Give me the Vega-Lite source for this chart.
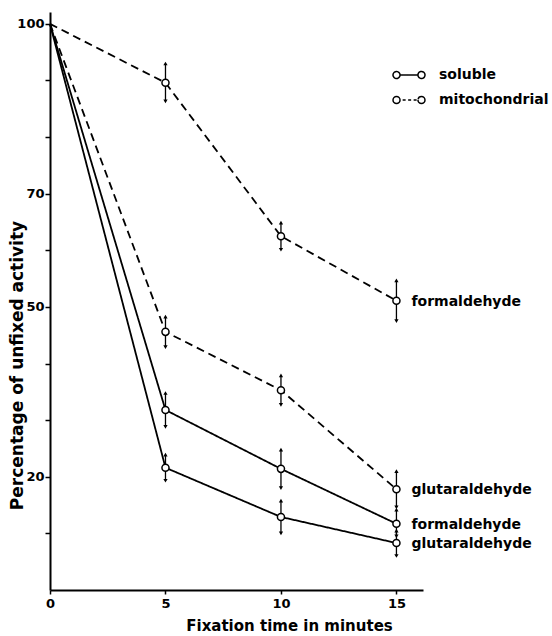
{
  "$schema": "https://vega.github.io/schema/vega-lite/v6.json",
  "width": 373,
  "height": 578,
  "autosize": {"type": "none"},
  "padding": {"left": 50, "top": 12, "right": 129, "bottom": 46},
  "background": "white",
  "config": {
    "view": {"stroke": null},
    "font": "DejaVu Sans",
    "axis": {
      "grid": false,
      "domainColor": "black",
      "domainWidth": 2,
      "tickColor": "black",
      "tickWidth": 1.5,
      "labelColor": "black",
      "labelFont": "DejaVu Sans",
      "labelFontWeight": "bold",
      "labelFontSize": 13,
      "titleColor": "black",
      "titleFont": "DejaVu Sans",
      "titleFontWeight": "bold"
    }
  },
  "data": {
    "values": [
      {"fraction": "mitochondrial", "fixative": "formaldehyde", "time": 0, "pct": 100},
      {"fraction": "mitochondrial", "fixative": "formaldehyde", "time": 5, "pct": 89.6, "lo": 86.3, "hi": 93.0},
      {"fraction": "mitochondrial", "fixative": "formaldehyde", "time": 10, "pct": 62.5, "lo": 60.1, "hi": 64.9},
      {"fraction": "mitochondrial", "fixative": "formaldehyde", "time": 15, "pct": 51.1, "lo": 47.5, "hi": 54.7},
      {"fraction": "mitochondrial", "fixative": "glutaraldehyde", "time": 0, "pct": 100},
      {"fraction": "mitochondrial", "fixative": "glutaraldehyde", "time": 5, "pct": 45.6, "lo": 42.9, "hi": 48.3},
      {"fraction": "mitochondrial", "fixative": "glutaraldehyde", "time": 10, "pct": 35.3, "lo": 32.7, "hi": 37.9},
      {"fraction": "mitochondrial", "fixative": "glutaraldehyde", "time": 15, "pct": 17.8, "lo": 14.6, "hi": 21.0},
      {"fraction": "soluble", "fixative": "formaldehyde", "time": 0, "pct": 100},
      {"fraction": "soluble", "fixative": "formaldehyde", "time": 5, "pct": 31.8, "lo": 28.8, "hi": 34.8},
      {"fraction": "soluble", "fixative": "formaldehyde", "time": 10, "pct": 21.4, "lo": 18.0, "hi": 24.8},
      {"fraction": "soluble", "fixative": "formaldehyde", "time": 15, "pct": 11.7, "lo": 9.5, "hi": 14.2},
      {"fraction": "soluble", "fixative": "glutaraldehyde", "time": 0, "pct": 100},
      {"fraction": "soluble", "fixative": "glutaraldehyde", "time": 5, "pct": 21.6, "lo": 19.3, "hi": 23.9},
      {"fraction": "soluble", "fixative": "glutaraldehyde", "time": 10, "pct": 12.9, "lo": 10.0, "hi": 15.8},
      {"fraction": "soluble", "fixative": "glutaraldehyde", "time": 15, "pct": 8.3, "lo": 6.0, "hi": 10.5}
    ]
  },
  "resolve": {
    "scale": {"strokeDash": "independent"},
    "legend": {"strokeDash": "independent"}
  },
  "encoding": {
    "x": {
      "field": "time",
      "type": "quantitative",
      "scale": {"domain": [0, 16.15], "nice": false, "zero": false},
      "axis": {
        "values": [0, 5, 10, 15],
        "tickSize": 4,
        "labelPadding": 3,
        "labelFlush": false,
        "title": "Fixation time in minutes",
        "titleFontSize": 15,
        "titleX": 239,
        "titleY": 40,
        "titleBaseline": "alphabetic",
        "titleAlign": "center"
      }
    },
    "y": {
      "field": "pct",
      "type": "quantitative",
      "scale": {"domain": [0, 102.1], "nice": false},
      "axis": {
        "values": [10, 20, 30, 40, 50, 60, 70, 80, 90, 100],
        "labelExpr": "indexof([20, 50, 70, 100], datum.value) >= 0 ? datum.label : ''",
        "tickSize": 5,
        "labelPadding": 1,
        "title": "Percentage of unfixed activity",
        "titleFontSize": 17,
        "titleX": -33,
        "titleY": 353,
        "titleBaseline": "middle",
        "titleAlign": "center"
      }
    }
  },
  "layer": [
    {
      "mark": {"type": "line", "color": "black", "strokeWidth": 1.8},
      "encoding": {
        "detail": {"field": "fixative"},
        "strokeDash": {
          "field": "fraction",
          "type": "nominal",
          "scale": {"domain": ["soluble", "mitochondrial"], "range": [[1, 0], [8, 5]]},
          "legend": null
        }
      }
    },
    {
      "description": "Key: a circle-line-circle sample per fraction, no plotted rows",
      "transform": [{"filter": "datum.time < 0"}],
      "mark": {"type": "line", "color": "black", "strokeWidth": 1.5},
      "encoding": {
        "strokeDash": {
          "field": "fraction",
          "type": "nominal",
          "scale": {
            "domain": ["soluble", "mitochondrial"],
            "range": [[1, 0], [22.1, 2, 3, 2.5, 3, 2.5, 3, 2, 30, 0]]
          },
          "legend": {
            "title": null,
            "orient": "none",
            "legendX": 345,
            "legendY": 49,
            "padding": 0,
            "rowPadding": 4,
            "symbolType": "M-0.69,0A0.27,0.27 0 1,1 -1.23,0A0.27,0.27 0 1,1 -0.69,0L0.69,0A0.27,0.27 0 1,1 1.23,0A0.27,0.27 0 1,1 0.69,0",
            "symbolSize": 676,
            "symbolStrokeColor": "black",
            "symbolFillColor": "white",
            "symbolStrokeWidth": 1.5,
            "labelFont": "DejaVu Sans",
            "labelFontWeight": "bold",
            "labelFontSize": 14,
            "labelColor": "black",
            "labelOffset": 16
          }
        }
      }
    },
    {
      "transform": [{"filter": "datum.time > 0"}],
      "mark": {"type": "rule", "color": "black", "strokeWidth": 1.3},
      "encoding": {
        "y": {"field": "lo", "type": "quantitative"},
        "y2": {"field": "hi"}
      }
    },
    {
      "transform": [{"filter": "datum.time > 0"}],
      "mark": {"type": "point", "shape": "triangle-up", "filled": true, "color": "black", "size": 18, "opacity": 1},
      "encoding": {
        "y": {"field": "hi", "type": "quantitative"}
      }
    },
    {
      "transform": [{"filter": "datum.time > 0"}],
      "mark": {"type": "point", "shape": "triangle-down", "filled": true, "color": "black", "size": 18, "opacity": 1},
      "encoding": {
        "y": {"field": "lo", "type": "quantitative"}
      }
    },
    {
      "transform": [{"filter": "datum.time > 0"}],
      "mark": {"type": "point", "shape": "circle", "filled": true, "fill": "white", "stroke": "black", "strokeWidth": 1.5, "size": 50, "opacity": 1}
    },
    {
      "transform": [{"filter": "datum.time == 15"}],
      "mark": {"type": "text", "align": "left", "baseline": "middle", "dx": 15, "dy": 1, "font": "DejaVu Sans", "fontWeight": "bold", "fontSize": 14, "color": "black"},
      "encoding": {
        "text": {"field": "fixative"}
      }
    }
  ]
}
